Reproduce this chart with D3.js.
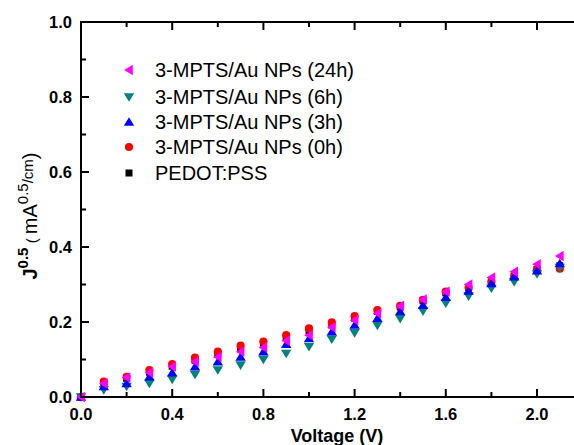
<!DOCTYPE html>
<html><head><meta charset="utf-8">
<script src="https://cdn.jsdelivr.net/npm/d3@7"></script>
<style>body{margin:0;background:#fff}svg{display:block}text{font-family:Arial,"Liberation Sans",sans-serif}</style>
</head><body>
<svg id="c" width="574" height="445"></svg>
<script>
const voltage = [0.0,0.1,0.2,0.3,0.4,0.5,0.6,0.7,0.8,0.9,1.0,1.1,1.2,1.3,1.4,1.5,1.6,1.7,1.8,1.9,2.0,2.1];
const pedot   = [0,0.038,0.050,0.066,0.082,0.098,0.114,0.130,0.142,0.158,0.176,0.192,0.210,0.228,0.240,0.257,0.278,0.292,0.308,0.322,0.340,0.350];
const h0      = [0,0.041,0.054,0.072,0.088,0.105,0.121,0.137,0.148,0.165,0.183,0.199,0.216,0.232,0.243,0.259,0.281,0.292,0.307,0.321,0.340,0.342];
const h3      = [0,0.028,0.036,0.054,0.065,0.081,0.094,0.107,0.121,0.141,0.156,0.174,0.192,0.210,0.228,0.245,0.266,0.283,0.303,0.321,0.337,0.356];
const h6      = [0,0.019,0.028,0.036,0.047,0.060,0.072,0.085,0.100,0.116,0.134,0.154,0.171,0.191,0.209,0.229,0.250,0.269,0.290,0.307,0.328,0.345];
const h24     = [0,0.036,0.052,0.065,0.081,0.094,0.107,0.121,0.132,0.150,0.165,0.186,0.205,0.223,0.243,0.260,0.281,0.300,0.319,0.334,0.354,0.376];
const seriesNames = ["3-MPTS/Au NPs (24h)","3-MPTS/Au NPs (6h)","3-MPTS/Au NPs (3h)","3-MPTS/Au NPs (0h)","PEDOT:PSS"];
const xTicks = [0.0,0.4,0.8,1.2,1.6,2.0];
const yTicks = [0.0,0.2,0.4,0.6,0.8,1.0];

const svg = d3.select("#c");
const x = d3.scaleLinear().domain([0,2.2]).range([81,81+2.2*228]);
const y = d3.scaleLinear().domain([0,1]).range([397,22]);

const series = [
  {name:seriesNames[4], vals:pedot, color:"#000000", shape:"square"},
  {name:seriesNames[3], vals:h0, color:"#ff0000", shape:"circle"},
  {name:seriesNames[1], vals:h6, color:"#008080", shape:"down"},
  {name:seriesNames[2], vals:h3, color:"#0000ff", shape:"up"},
  {name:seriesNames[0], vals:h24, color:"#ff00ff", shape:"left"}
];
function shapePath(s){
  switch(s){
    case "square": return "M-3.5,-3.5H3.5V3.5H-3.5Z";
    case "circle": return d3.symbol(d3.symbolCircle, 52)();
    case "down": return "M-5.2,-3.8L5.2,-3.8L0,4.8Z";
    case "up": return "M-5.2,3.8L5.2,3.8L0,-4.8Z";
    case "left": return "M3.8,-5.2L3.8,5.2L-4.8,0Z";
  }
}

// markers
const g = svg.append("g");
series.forEach(s=>{
  g.selectAll(null).data(voltage.map((v,i)=>[v,s.vals[i]])).enter().append("path")
    .attr("d",shapePath(s.shape)).attr("fill",s.color)
    .attr("transform",d=>`translate(${x(d[0])},${y(d[1])})`);
});

// frame
const lw = 2;
svg.append("line").attr("x1",x(0)).attr("x2",x(2.2)).attr("y1",y(0)).attr("y2",y(0)).attr("stroke","#000").attr("stroke-width",lw);
svg.append("line").attr("x1",x(0)).attr("x2",x(2.2)).attr("y1",y(1)).attr("y2",y(1)).attr("stroke","#000").attr("stroke-width",lw);
svg.append("line").attr("x1",x(0)).attr("x2",x(0)).attr("y1",y(0)+1).attr("y2",y(1)-1).attr("stroke","#000").attr("stroke-width",lw);

// x ticks
const xMinor = d3.range(0.2,2.2,0.4);
xTicks.forEach(t=>{
  svg.append("line").attr("x1",x(t)).attr("x2",x(t)).attr("y1",y(0)).attr("y2",y(0)-8).attr("stroke","#000").attr("stroke-width",lw);
  svg.append("line").attr("x1",x(t)).attr("x2",x(t)).attr("y1",y(1)).attr("y2",y(1)+8).attr("stroke","#000").attr("stroke-width",lw);
  svg.append("text").attr("x",x(t)).attr("y",420).attr("text-anchor","middle")
    .attr("font-size",16.5).attr("font-weight","bold").text(d3.format(".1f")(t));
});
xMinor.forEach(t=>{
  svg.append("line").attr("x1",x(t)).attr("x2",x(t)).attr("y1",y(0)).attr("y2",y(0)-5).attr("stroke","#000").attr("stroke-width",lw);
  svg.append("line").attr("x1",x(t)).attr("x2",x(t)).attr("y1",y(1)).attr("y2",y(1)+5).attr("stroke","#000").attr("stroke-width",lw);
});
// y ticks
const yMinor = d3.range(0.1,1.0,0.2);
yTicks.forEach(t=>{
  svg.append("line").attr("x1",x(0)).attr("x2",x(0)+8).attr("y1",y(t)).attr("y2",y(t)).attr("stroke","#000").attr("stroke-width",lw);
  svg.append("text").attr("x",72).attr("y",y(t)+6).attr("text-anchor","end")
    .attr("font-size",16.5).attr("font-weight","bold").text(d3.format(".1f")(t));
});
yMinor.forEach(t=>{
  svg.append("line").attr("x1",x(0)).attr("x2",x(0)+5).attr("y1",y(t)).attr("y2",y(t)).attr("stroke","#000").attr("stroke-width",lw);
});

// axis titles
svg.append("text").attr("x",337).attr("y",442).attr("text-anchor","middle")
  .attr("font-size",18).attr("font-weight","bold").text("Voltage (V)");
const yl = svg.append("text").attr("transform","translate(37,216) rotate(-90)").attr("text-anchor","middle")
  .attr("font-size",20);
yl.append("tspan").attr("font-weight","bold").text("J");
yl.append("tspan").attr("font-size",15).attr("font-weight","bold").attr("dy",-9).text("0.5");
yl.append("tspan").attr("font-size",15).attr("dy",9).text(" ( ");
yl.append("tspan").text("mA");
yl.append("tspan").attr("font-size",15).attr("dy",-9).text("0.5");
yl.append("tspan").attr("font-size",15).attr("dy",5).text("/cm");
yl.append("tspan").attr("dy",4).text(")");

// legend
const legOrder = [4,2,3,1,0];
const legY = [70,97,122,147,173];
legOrder.forEach((si,i)=>{
  const s = series[si];
  svg.append("path").attr("d",shapePath(s.shape)).attr("fill",s.color)
    .attr("transform",`translate(129,${legY[i]})`);
  svg.append("text").attr("x",155).attr("y",legY[i]+7).attr("font-size",20).text(s.name);
});
</script>
</body></html>
